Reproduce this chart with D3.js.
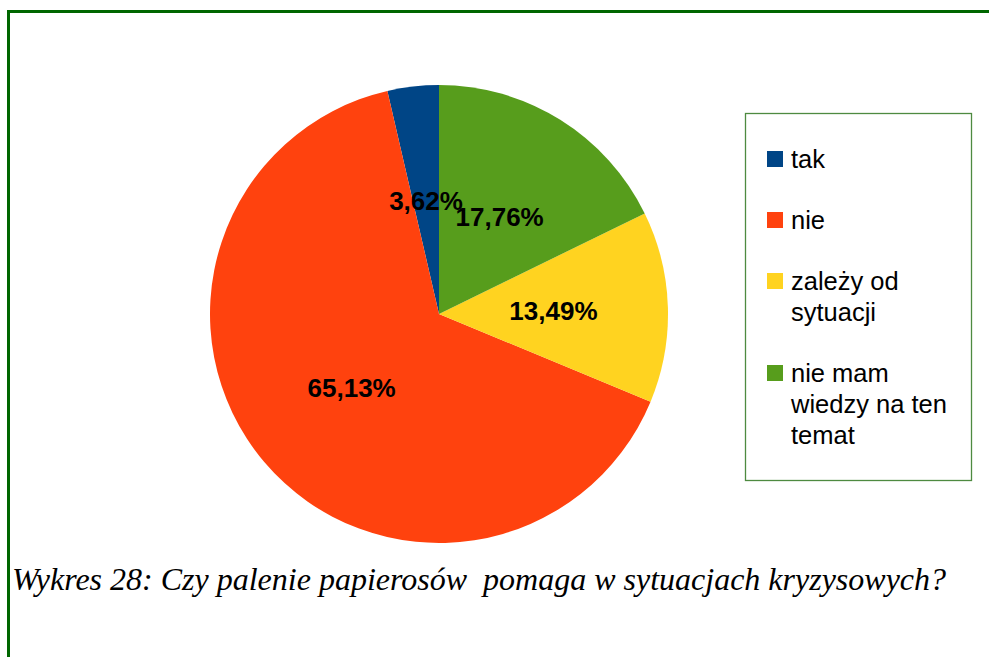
<!DOCTYPE html>
<html>
<head>
<meta charset="utf-8">
<script src="https://cdn.jsdelivr.net/npm/d3@7"></script>
<style>
  html, body { margin: 0; padding: 0; background: #fff; }
  svg { display: block; }
</style>
</head>
<body>
<div id="chart"></div>
<script>
// odpowiedzi z wykresu 28
var categories = ["tak", "nie", "zależy od sytuacji", "nie mam wiedzy na ten temat"];
var legendLines = [["tak"], ["nie"], ["zależy od", "sytuacji"], ["nie mam", "wiedzy na ten", "temat"]];
var values = [3.62, 65.13, 13.49, 17.76];
var colors = ["#004586", "#ff420e", "#ffd320", "#579d1c"];
var caption = "Wykres 28: Czy palenie papierosów  pomaga w sytuacjach kryzysowych?";

var width = 989, height = 657;
var cx = 439, cy = 314, radius = 229;

var svg = d3.select("#chart").append("svg")
    .attr("width", width)
    .attr("height", height);

// ramka strony (gora i lewa krawedz)
svg.append("rect")
    .attr("x", 7).attr("y", 10)
    .attr("width", width - 7).attr("height", 3)
    .attr("fill", "#006600");
svg.append("rect")
    .attr("x", 7).attr("y", 10)
    .attr("width", 3).attr("height", height - 10)
    .attr("fill", "#006600");

var color = d3.scaleOrdinal().domain(categories).range(colors);

var pie = d3.pie()
    .sort(null)
    .startAngle(0)
    .endAngle(-2 * Math.PI)
    .value(function(d){ return d; });

var arc = d3.arc().innerRadius(0).outerRadius(radius);

var arcs = pie(values);

var g = svg.append("g").attr("transform", "translate(" + cx + "," + cy + ")");

g.selectAll("path")
    .data(arcs)
    .enter()
    .append("path")
    .attr("d", arc)
    .attr("fill", function(d,i){ return color(categories[i]); });

g.selectAll("text")
    .data(arcs)
    .enter()
    .append("text")
    .attr("transform", function(d){ return "translate(" + arc.centroid(d) + ")"; })
    .attr("text-anchor", "middle")
    .attr("dy", "0.36em")
    .style("font-family", "'Liberation Sans', Arial, sans-serif")
    .style("font-size", "26px")
    .style("font-weight", "bold")
    .attr("fill", "#000")
    .text(function(d){ return d.data.toFixed(2).replace(".", ",") + "%"; });

// legenda
var legend = svg.append("g");
legend.append("rect")
    .attr("x", 745.5).attr("y", 113.5)
    .attr("width", 226).attr("height", 367)
    .attr("fill", "none")
    .attr("stroke", "#4e8a40")
    .attr("stroke-width", 1.3);

var itemY = [151, 212, 273, 365];
var item = legend.selectAll("g.item")
    .data(categories)
    .enter()
    .append("g")
    .attr("class", "item")
    .attr("transform", function(d,i){ return "translate(767," + itemY[i] + ")"; });

item.append("rect")
    .attr("width", 16).attr("height", 16)
    .attr("fill", function(d){ return color(d); });

item.append("text")
    .attr("x", 24)
    .attr("y", 17)
    .style("font-family", "'Liberation Sans', Arial, sans-serif")
    .style("font-size", "25.5px")
    .attr("fill", "#000")
    .selectAll("tspan")
    .data(function(d,i){ return legendLines[i]; })
    .enter()
    .append("tspan")
    .attr("x", 24)
    .attr("dy", function(d,i){ return i === 0 ? 0 : 31; })
    .text(function(d){ return d; });

// podpis
svg.append("text")
    .attr("x", 12)
    .attr("y", 590)
    .style("font-family", "'Liberation Serif', 'Times New Roman', serif")
    .style("font-style", "italic")
    .style("font-size", "32px")
    .style("white-space", "pre")
    .attr("fill", "#000")
    .text(caption);
</script>
</body>
</html>
